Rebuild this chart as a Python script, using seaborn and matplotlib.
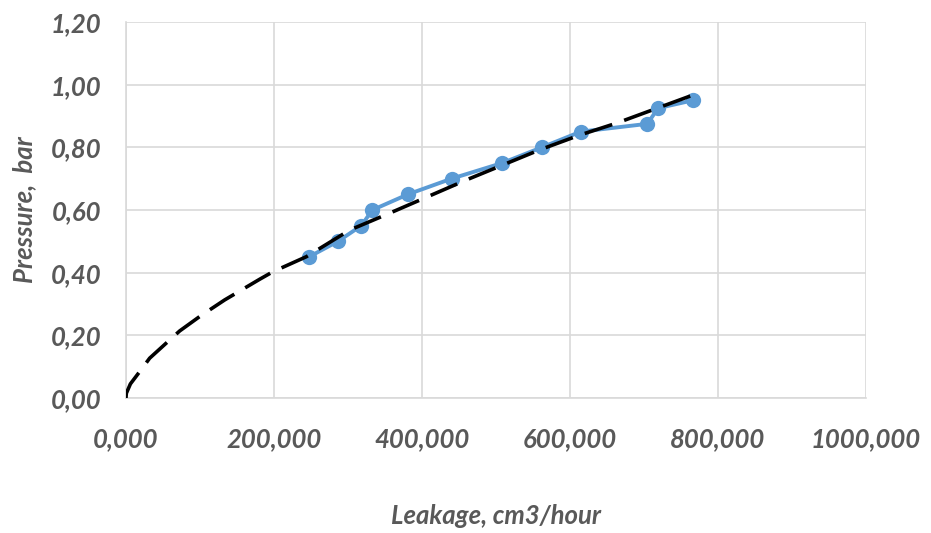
import matplotlib
matplotlib.use("Agg")
import matplotlib.pyplot as plt
import pandas as pd
import seaborn as sns

# measured points (leakage in cm3/hour, pressure in bar)
leakage = [247000, 286500, 318000, 333000, 381000, 440000,
           508500, 562000, 614500, 704500, 719000, 766000]
pressure = [0.45, 0.50, 0.55, 0.60, 0.65, 0.70,
            0.75, 0.80, 0.85, 0.875, 0.925, 0.95]

# trend curve
trend_x = [0, 500, 6000, 18500, 32000, 59000, 72600, 99600, 133400,
           180700, 198600, 243800, 302300, 356400, 460000, 559000,
           613000, 662700, 766200]
trend_y = [0.0, 0.015, 0.045, 0.084, 0.127, 0.185, 0.214, 0.26, 0.313,
           0.379, 0.403, 0.451, 0.536, 0.590, 0.696, 0.792,
           0.839, 0.877, 0.967]

x_ticks = [0, 200000, 400000, 600000, 800000, 1000000]
x_labels = ["0,000", "200,000", "400,000", "600,000", "800,000", "1000,000"]
y_ticks = [0.0, 0.2, 0.4, 0.6, 0.8, 1.0, 1.2]
y_labels = ["0,00", "0,20", "0,40", "0,60", "0,80", "1,00", "1,20"]

sns.set_style("white")
plt.rcParams["font.family"] = ["Lato", "DejaVu Sans"]

TEXT = "#595959"
GRID = "#d9d9d9"
FS = 18.5

df = pd.DataFrame({"leakage": leakage, "pressure": pressure})
trend = pd.DataFrame({"x": trend_x, "y": trend_y})

fig = plt.figure(figsize=(9.31, 5.33), dpi=100)
ax = fig.add_axes([0.1353, 0.2533, 0.7949, 0.7054])

sns.lineplot(data=df, x="leakage", y="pressure", sort=False, ax=ax,
             color="#5b9bd5", lw=2.8, marker="o", markersize=11,
             markeredgewidth=0, zorder=3)
sns.lineplot(data=trend, x="x", y="y", sort=False, ax=ax,
             color="black", lw=2.6, dashes=False, zorder=4)
ax.lines[-1].set_dashes([8, 3.5])

ax.set_xlim(0, 1000000)
ax.set_ylim(0, 1.2)
ax.set_xticks(x_ticks)
ax.set_xticklabels(x_labels)
ax.set_yticks(y_ticks)
ax.set_yticklabels(y_labels)

ax.grid(True, color=GRID, lw=1.2)
ax.set_axisbelow(True)
for side in ["top", "right"]:
    ax.spines[side].set_visible(False)
for side in ["left", "bottom"]:
    ax.spines[side].set_color(GRID)
    ax.spines[side].set_linewidth(1.2)

ax.tick_params(axis="x", length=0, pad=21, labelsize=FS, labelcolor=TEXT)
ax.tick_params(axis="y", length=0, pad=18, labelsize=FS, labelcolor=TEXT)
for lab in ax.get_xticklabels() + ax.get_yticklabels():
    lab.set_fontstyle("italic")
    lab.set_fontweight("bold")

ax.set_xlabel("Leakage, cm3/hour", fontsize=FS, color=TEXT,
              fontstyle="italic", fontweight="bold", labelpad=38)
ax.set_ylabel("Pressure,  bar", fontsize=FS, color=TEXT,
              fontstyle="italic", fontweight="bold", labelpad=10)

fig.savefig("out.png", dpi=100)
